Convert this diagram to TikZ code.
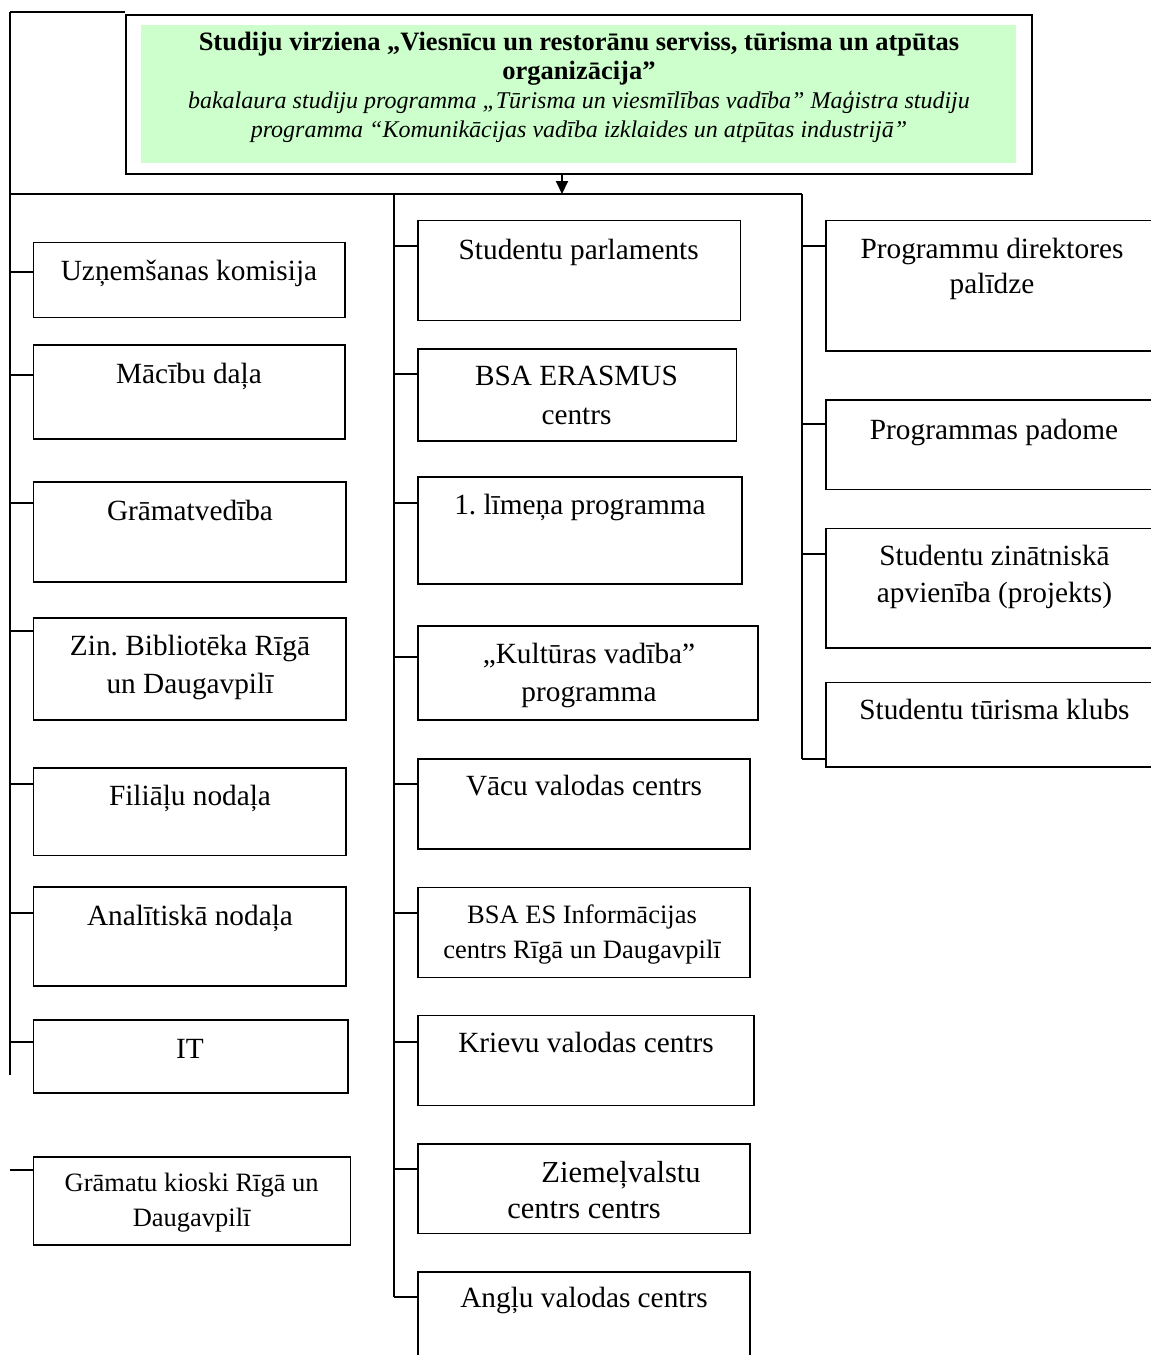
\documentclass[tikz,border=0pt]{standalone}
\usepackage{fontspec}
\setmainfont{Liberation Serif}
\usetikzlibrary{arrows.meta}
\definecolor{lgreen}{HTML}{CCFFCC}
\newcommand{\bigtxt}{\fontsize{29.3}{38}\selectfont}
\newcommand{\smalltxt}{\fontsize{26.5}{35}\selectfont}
\newcommand{\headtxt}{\fontsize{26.5}{29}\selectfont}
\newcommand{\subtxt}{\fontsize{24}{29}\selectfont\itshape}
\frenchspacing
\begin{document}
\begin{tikzpicture}[x=1pt, y=-1pt,
  box/.style={draw, line width=1.8pt, inner sep=0pt},
  wire/.style={line width=2pt},
  lbl/.style={anchor=base, align=center, inner sep=0pt, font=\bigtxt},
  slbl/.style={lbl, font=\smalltxt}]
\useasboundingbox (0,0) rectangle (1151,1355);
% top block
\node[box, line width=1.6pt, minimum width=906pt, minimum height=159pt] (frame) at (579,94.5){};
\node[fill=lgreen, inner sep=0pt, minimum width=875pt, minimum height=138pt] (head) at (578.5,94){};
\node[lbl, font=\headtxt] (headt) at (579,137){\textbf{Studiju virziena „Viesnīcu un restorānu serviss, tūrisma un atpūtas}\\\textbf{organizācija”}\\{\subtxt bakalaura studiju programma „Tūrisma un viesmīlības vadība” Maģistra studiju}\\{\subtxt programma “Komunikācijas vadība izklaides un atpūtas industrijā”}};
% trunk points
\coordinate (ltop) at (10,12);
\coordinate (lend) at (10,1075);
\coordinate (bus) at (10,194);
\coordinate (mtop) at (394,194);
\coordinate (mend) at (394,1297);
\coordinate (rtop) at (802,194);
\coordinate (rend) at (802,758.5);
\coordinate (arr) at (562,194);
\draw[wire](ltop) -- (ltop -| frame.west);
\draw[wire](ltop) -- (lend);
\draw[wire](bus) -- (rtop);
\draw[wire](mtop) -- (mend);
\draw[wire](rtop) -- (rend);
\draw[wire, -{Triangle[width=12pt, length=13pt]}](arr |- frame.south) -- (arr);
% left column
\node[box, minimum width=311.5pt, minimum height=75pt] (lb1) at (189.25,280){};
\node[lbl] (lb1t) at (189,280.7){Uzņemšanas komisija};
\node[box, minimum width=311.5pt, minimum height=94pt] (lb2) at (189.25,392){};
\node[lbl] (lb2t) at (189,383){Mācību daļa};
\node[box, minimum width=312.5pt, minimum height=100pt] (lb3) at (189.75,532){};
\node[lbl] (lb3t) at (190,520){Grāmatvedība};
\node[box, minimum width=312.5pt, minimum height=102pt] (lb4) at (189.75,669){};
\node[lbl] (lb4t) at (190,693.3){Zin. Bibliotēka Rīgā\\un Daugavpilī};
\node[box, minimum width=312.5pt, minimum height=87.5pt] (lb5) at (189.75,811.75){};
\node[lbl] (lb5t) at (190,805.7){Filiāļu nodaļa};
\node[box, minimum width=312.5pt, minimum height=99pt] (lb6) at (189.75,936.5){};
\node[lbl] (lb6t) at (190,925){Analītiskā nodaļa};
\node[box, minimum width=314.5pt, minimum height=73pt] (lb7) at (190.75,1056.5){};
\node[lbl] (lb7t) at (190,1058){IT};
\node[box, minimum width=317pt, minimum height=88pt] (lb8) at (192,1201){};
\node[slbl] (lb8t) at (191.7,1226.7){Grāmatu kioski Rīgā un\\Daugavpilī};
\coordinate (lj1) at (10,272);
\coordinate (lj2) at (10,374.5);
\coordinate (lj3) at (10,503);
\coordinate (lj4) at (10,631);
\coordinate (lj5) at (10,784);
\coordinate (lj6) at (10,913);
\coordinate (lj7) at (10,1041.5);
\coordinate (lj8) at (10,1169.5);
\draw[wire](lj1) -- (lj1 -| lb1.west);
\draw[wire](lj2) -- (lj2 -| lb2.west);
\draw[wire](lj3) -- (lj3 -| lb3.west);
\draw[wire](lj4) -- (lj4 -| lb4.west);
\draw[wire](lj5) -- (lj5 -| lb5.west);
\draw[wire](lj6) -- (lj6 -| lb6.west);
\draw[wire](lj7) -- (lj7 -| lb7.west);
\draw[wire](lj8) -- (lj8 -| lb8.west);
% middle column
\node[box, minimum width=322.5pt, minimum height=100pt] (mb1) at (579.25,270.5){};
\node[lbl] (mb1t) at (578.7,259.3){Studentu parlaments};
\node[box, minimum width=318.5pt, minimum height=92pt] (mb2) at (577.25,395){};
\node[lbl, font=\fontsize{29.3}{39}\selectfont] (mb2t) at (576.5,424.3){BSA ERASMUS\\centrs};
\node[box, minimum width=324pt, minimum height=107pt] (mb3) at (580,530.5){};
\node[lbl] (mb3t) at (580,514.3){1. līmeņa programma};
\node[box, minimum width=340pt, minimum height=94pt] (mb4) at (588,673){};
\node[lbl] (mb4t) at (589,701){„Kultūras vadība”\\programma};
\node[box, minimum width=332pt, minimum height=90pt] (mb5) at (584,804){};
\node[lbl] (mb5t) at (584,795){Vācu valodas centrs};
\node[box, minimum width=332pt, minimum height=90pt] (mb6) at (584,932.5){};
\node[slbl] (mb6t) at (582,958.3){BSA ES Informācijas\\centrs Rīgā un Daugavpilī};
\node[box, minimum width=336pt, minimum height=90pt] (mb7) at (586,1060.5){};
\node[lbl] (mb7t) at (586,1052){Krievu valodas centrs};
\node[box, minimum width=332pt, minimum height=89.5pt] (mb8) at (584,1188.75){};
\node[lbl, font=\fontsize{30.5}{36}\selectfont] (mb8t) at (584,1218){\hspace*{74pt}Ziemeļvalstu\\centrs centrs};
\node[box, minimum width=332pt, minimum height=108pt] (mb9) at (584,1326){};
\node[lbl] (mb9t) at (584,1307){Angļu valodas centrs};
\coordinate (mj1) at (394,246);
\coordinate (mj2) at (394,373.5);
\coordinate (mj3) at (394,503);
\coordinate (mj4) at (394,657);
\coordinate (mj5) at (394,783.5);
\coordinate (mj6) at (394,913);
\coordinate (mj7) at (394,1041.5);
\coordinate (mj8) at (394,1169);
\draw[wire](mj1) -- (mj1 -| mb1.west);
\draw[wire](mj2) -- (mj2 -| mb2.west);
\draw[wire](mj3) -- (mj3 -| mb3.west);
\draw[wire](mj4) -- (mj4 -| mb4.west);
\draw[wire](mj5) -- (mj5 -| mb5.west);
\draw[wire](mj6) -- (mj6 -| mb6.west);
\draw[wire](mj7) -- (mj7 -| mb7.west);
\draw[wire](mj8) -- (mj8 -| mb8.west);
\draw[wire](mend) -- (mend -| mb9.west);
% right column
\node[box, minimum width=344pt, minimum height=130.5pt] (rb1) at (998,285.75){};
\node[lbl, font=\fontsize{29.3}{35}\selectfont] (rb1t) at (992,293){Programmu direktores\\palīdze};
\node[box, minimum width=344pt, minimum height=89.5pt] (rb2) at (998,444.75){};
\node[lbl] (rb2t) at (994,439.3){Programmas padome};
\node[box, minimum width=344pt, minimum height=119.5pt] (rb3) at (998,588.25){};
\node[lbl, font=\fontsize{29.3}{37}\selectfont] (rb3t) at (994.5,602){Studentu zinātniskā\\apvienība (projekts)};
\node[box, minimum width=344pt, minimum height=84.5pt] (rb4) at (998,724.75){};
\node[lbl] (rb4t) at (994.5,719.3){Studentu tūrisma klubs};
\coordinate (rj1) at (802,246);
\coordinate (rj2) at (802,424);
\coordinate (rj3) at (802,553.5);
\draw[wire](rj1) -- (rj1 -| rb1.west);
\draw[wire](rj2) -- (rj2 -| rb2.west);
\draw[wire](rj3) -- (rj3 -| rb3.west);
\draw[wire](rend) -- (rend -| rb4.west);
\end{tikzpicture}
\end{document}
